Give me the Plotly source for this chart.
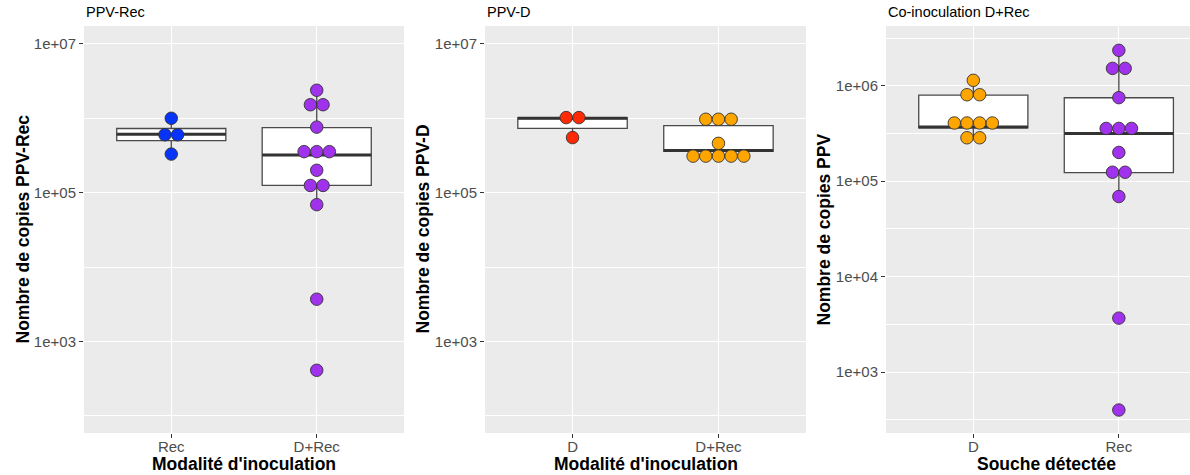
import plotly.graph_objects as go
from collections import Counter

# ---------------- data ----------------
panel_titles = ["PPV-Rec", "PPV-D", "Co-inoculation D+Rec"]
x_titles = ["Modalité d'inoculation", "Modalité d'inoculation", "Souche détectée"]
y_titles = ["Nombre de copies PPV-Rec", "Nombre de copies PPV-D", "Nombre de copies PPV"]

p1_categories = ["Rec", "D+Rec"]
p2_categories = ["D", "D+Rec"]
p3_categories = ["D", "Rec"]

# dot values (binned, as drawn)
p1_rec = [1.0e6, 6.0e5, 6.0e5, 3.3e5]
p1_drec = [2.38e6, 1.52e6, 1.52e6, 7.6e5, 3.56e5, 3.56e5, 3.56e5,
           2.0e5, 1.25e5, 1.25e5, 6.9e4, 3.7e3, 4.1e2]
p2_d = [1.02e6, 1.02e6, 5.5e5]
p2_drec = [9.7e5, 9.7e5, 9.7e5, 4.6e5, 3.1e5, 3.1e5, 3.1e5, 3.1e5, 3.1e5]
p3_d = [1.14e6, 8.05e5, 8.05e5, 4.07e5, 4.07e5, 4.07e5, 4.07e5, 2.85e5, 2.85e5]
p3_rec = [2.35e6, 1.52e6, 1.52e6, 7.5e5, 3.57e5, 3.57e5, 3.57e5,
          2.0e5, 1.24e5, 1.24e5, 6.9e4, 3.67e3, 4.0e2]

# box statistics: [lower whisker, q1, median, q3, upper whisker]
p1_rec_box = [3.3e5, 5.02e5, 6.1e5, 7.28e5, 1.0e6]
p1_drec_box = [6.9e4, 1.25e5, 3.22e5, 7.5e5, 2.38e6]
p2_d_box = [5.5e5, 7.3e5, 1.0e6, 1.02e6, 1.02e6]
p2_drec_box = [3.1e5, 3.6e5, 3.68e5, 7.98e5, 9.7e5]
p3_d_box = [2.85e5, 3.63e5, 3.69e5, 7.98e5, 1.14e6]
p3_rec_box = [6.9e4, 1.23e5, 3.16e5, 7.48e5, 2.35e6]

p12_major = [1e3, 1e5, 1e7]
p12_major_text = ["1e+03", "1e+05", "1e+07"]
p12_minor = [1e2, 1e4, 1e6]
p3_major = [1e3, 1e4, 1e5, 1e6]
p3_major_text = ["1e+03", "1e+04", "1e+05", "1e+06"]
p3_minor = [10**2.5, 10**3.5, 10**4.5, 10**5.5, 10**6.5]

# ---------------- style / layout ----------------
BLUE = "#0634FA"
PURPLE = "#A032EE"
RED = "#FF2A05"
ORANGE = "#FFA500"
FONT = "Liberation Sans, Arial, sans-serif"
DOT_STEP = 0.087
BOX_W = 0.75

W, H = 1190, 475


def px_x(sx):
    return sx / W


def px_y(sy):
    return 1 - sy / H


panels = [
    dict(cats=p1_categories, groups=[(p1_rec, p1_rec_box, BLUE), (p1_drec, p1_drec_box, PURPLE)],
         major=p12_major, major_text=p12_major_text, minor=p12_minor, yrange=[1.77, 7.24],
         xdom=[px_x(84), px_x(404)], xrange=[0.4, 2.6], ytitle_x=22),
    dict(cats=p2_categories, groups=[(p2_d, p2_d_box, RED), (p2_drec, p2_drec_box, ORANGE)],
         major=p12_major, major_text=p12_major_text, minor=p12_minor, yrange=[1.77, 7.24],
         xdom=[px_x(485), px_x(806)], xrange=[0.4, 2.6], ytitle_x=422),
    dict(cats=p3_categories, groups=[(p3_d, p3_d_box, ORANGE), (p3_rec, p3_rec_box, PURPLE)],
         major=p3_major, major_text=p3_major_text, minor=p3_minor, yrange=[2.361, 6.626],
         xdom=[px_x(886), 1.0], xrange=[0.4, 2.489], ytitle_x=823),
]

ydom = [px_y(433), px_y(26)]

fig = go.Figure()
layout = {}
annotations = []

for pi, p in enumerate(panels):
    n = pi + 1
    xa = "x" if n == 1 else f"x{n}"
    ya = "y" if n == 1 else f"y{n}"
    for gi, (vals, box, color) in enumerate(p["groups"]):
        pos = gi + 1
        fig.add_trace(go.Box(
            x=[pos], lowerfence=[box[0]], q1=[box[1]], median=[box[2]],
            q3=[box[3]], upperfence=[box[4]], width=BOX_W, whiskerwidth=0,
            fillcolor="white", line=dict(color="#4a4a4a", width=1.3),
            boxpoints=False, hoverinfo="skip", showlegend=False,
            xaxis=xa, yaxis=ya))
        fig.add_trace(go.Scatter(
            x=[pos - BOX_W / 2, pos + BOX_W / 2], y=[box[2], box[2]],
            mode="lines", line=dict(color="#333333", width=3),
            hoverinfo="skip", showlegend=False, xaxis=xa, yaxis=ya))
        counts = Counter(vals)
        seen = Counter()
        xs, ys = [], []
        for v in vals:
            k = counts[v]
            i = seen[v]
            seen[v] += 1
            xs.append(pos + (i - (k - 1) / 2) * DOT_STEP)
            ys.append(v)
        fig.add_trace(go.Scatter(
            x=xs, y=ys, mode="markers",
            marker=dict(size=12.5, color=color, line=dict(color="#333333", width=0.9)),
            hoverinfo="skip", showlegend=False, xaxis=xa, yaxis=ya))

    layout[f"xaxis{'' if n == 1 else n}"] = dict(
        domain=p["xdom"], range=p["xrange"], anchor=ya,
        tickvals=[1, 2], ticktext=p["cats"], ticks="outside", ticklen=4,
        tickwidth=1, tickcolor="#333333", showline=False, zeroline=False,
        showgrid=True, gridcolor="white", gridwidth=1.1,
        ticklabelstandoff=-4,
        tickfont=dict(family=FONT, size=15, color="#4d4d4d"),
        automargin=False, fixedrange=True)
    layout[f"yaxis{'' if n == 1 else n}"] = dict(
        domain=ydom, type="log", range=p["yrange"], anchor=xa,
        tickvals=p["major"], ticktext=p["major_text"], ticks="outside", ticklen=4,
        tickwidth=1, tickcolor="#333333", showline=False, zeroline=False,
        showgrid=True, gridcolor="white", gridwidth=1.1,
        minor=dict(tickvals=p["minor"], showgrid=True, gridcolor="white",
                   gridwidth=0.55, ticks=""),
        tickfont=dict(family=FONT, size=15, color="#4d4d4d"),
        automargin=False, fixedrange=True)
    # panel title
    annotations.append(dict(
        text=panel_titles[pi], xref="paper", yref="paper",
        x=p["xdom"][0], y=px_y(12.5), xanchor="left", yanchor="middle",
        showarrow=False, font=dict(family=FONT, size=14.5, color="black")))
    # x-axis title (centred between the two categories)
    annotations.append(dict(
        text=x_titles[pi], xref=xa, yref="paper",
        x=1.5, y=px_y(464), xanchor="center", yanchor="middle",
        showarrow=False,
        font=dict(family=FONT, size=17.5, color="black", weight="bold")))
    # y-axis title
    annotations.append(dict(
        text=y_titles[pi], xref="paper", yref="paper", textangle=-90,
        x=px_x(p["ytitle_x"]), y=(ydom[0] + ydom[1]) / 2,
        xanchor="center", yanchor="middle", showarrow=False,
        font=dict(family=FONT, size=17.5, color="black", weight="bold")))

fig.update_layout(
    **layout,
    annotations=annotations,
    width=W, height=H,
    margin=dict(l=0, r=0, t=0, b=0),
    paper_bgcolor="white", plot_bgcolor="#EBEBEB",
    showlegend=False,
)

# remove the default page margin so the 1190x475 figure fills the window exactly
fig.write_html("out.html", config={"displayModeBar": False},
               post_script="document.body.style.margin='0';document.body.style.overflow='hidden';")
